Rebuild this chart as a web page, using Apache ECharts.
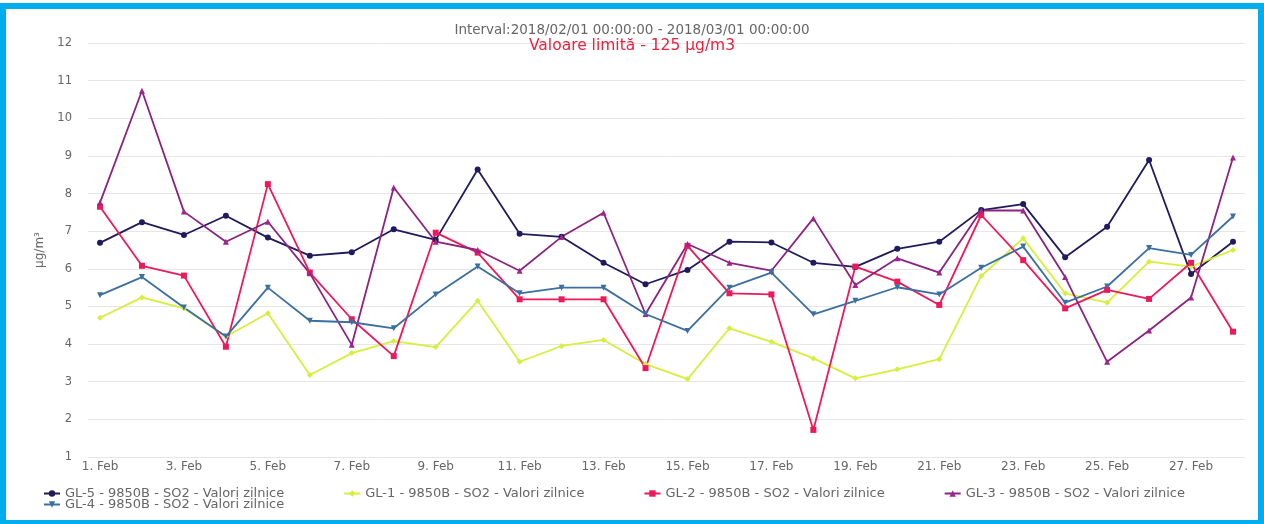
<!DOCTYPE html>
<html>
<head>
<meta charset="utf-8">
<script src="https://cdn.jsdelivr.net/npm/echarts@6/dist/echarts.min.js"></script>
<style>
html,body{margin:0;padding:0;background:#fff;}
#chart{position:absolute;left:0;top:0;width:1264px;height:524px;}
#frame{position:absolute;left:0;top:3px;width:1264px;height:521px;border:6px solid #00AEEF;border-bottom-width:4px;box-sizing:border-box;pointer-events:none;}
</style>
</head>
<body>
<div id="chart"></div>
<div id="frame"></div>
<script>
const categories = ['1. Feb','2. Feb','3. Feb','4. Feb','5. Feb','6. Feb','7. Feb','8. Feb','9. Feb','10. Feb','11. Feb','12. Feb','13. Feb','14. Feb','15. Feb','16. Feb','17. Feb','18. Feb','19. Feb','20. Feb','21. Feb','22. Feb','23. Feb','24. Feb','25. Feb','26. Feb','27. Feb','28. Feb'];
const labelIndices = [0,2,4,6,8,10,12,14,16,18,20,22,24,26];
const gl5 = [6.69,7.24,6.90,7.41,6.83,6.35,6.44,7.05,6.77,8.64,6.93,6.85,6.16,5.59,5.97,6.72,6.70,6.16,6.05,6.53,6.72,7.56,7.72,6.31,7.12,8.89,5.86,6.72];
const gl1 = [4.70,5.24,4.95,4.20,4.82,3.18,3.76,4.08,3.92,5.15,3.53,3.95,4.11,3.47,3.07,4.42,4.06,3.62,3.09,3.33,3.60,5.81,6.81,5.35,5.10,6.19,6.06,6.50];
const gl2 = [7.65,6.08,5.82,3.93,8.25,5.90,4.66,3.68,6.96,6.43,5.19,5.19,5.19,3.36,6.61,5.35,5.32,1.72,6.06,5.66,5.04,7.43,6.23,4.95,5.44,5.20,6.16,4.33];
const gl3 = [7.76,10.73,7.52,6.72,7.25,5.88,3.98,8.16,6.72,6.50,5.95,6.85,7.49,4.80,6.66,6.16,5.95,7.34,5.57,6.28,5.90,7.55,7.55,5.78,3.53,4.36,5.24,8.96];
const gl4 = [5.30,5.78,4.97,4.20,5.50,4.62,4.58,4.42,5.32,6.06,5.35,5.50,5.50,4.80,4.35,5.50,5.90,4.79,5.15,5.51,5.32,6.03,6.59,5.10,5.53,6.55,6.37,7.39];
const names = ['GL-5 - 9850B - SO2 - Valori zilnice','GL-1 - 9850B - SO2 - Valori zilnice','GL-2 - 9850B - SO2 - Valori zilnice','GL-3 - 9850B - SO2 - Valori zilnice','GL-4 - 9850B - SO2 - Valori zilnice'];
const titleText = 'Interval:2018/02/01 00:00:00 - 2018/03/01 00:00:00';
const subText = 'Valoare limită - 125 µg/m3';
const yName = 'µg/m³';

const FONT = 'DejaVu Sans';
function mk(name, vals, color, symbol, markerColor, rotate) {
  return {
    name: name, type: 'line', data: vals.map((v,i)=>[i,v]),
    symbol: symbol, symbolSize: 6, symbolRotate: rotate || 0,
    lineStyle: {width: 1.8, color: color},
    itemStyle: {color: markerColor || color},
    emphasis: {disabled: true}, animation: false
  };
}
const legendText = {fontFamily: FONT, fontSize: 13, color: '#666'};
const chart = echarts.init(document.getElementById('chart'));
chart.setOption({
  animation: false,
  title: [
    {text: titleText, left: 'center', top: 18, textStyle: {fontFamily: FONT, fontSize: 13.5, fontWeight: 'normal', color: '#666'}},
    {text: subText, left: 'center', top: 33, textStyle: {fontFamily: FONT, fontSize: 15.5, fontWeight: 'normal', color: '#e8233f'}}
  ],
  legend: [
    {data: names.slice(0,4), left: 38, top: 482, itemWidth: 16, itemHeight: 8, itemGap: 59, orient: 'horizontal', textStyle: legendText},
    {data: [names[4]], left: 38, top: 493, itemWidth: 16, itemHeight: 8, textStyle: legendText}
  ],
  grid: {left: 88, right: 19, top: 43, bottom: 67},
  xAxis: {
    type: 'value', min: -0.286, max: 27.286,
    axisLine: {show: false}, axisTick: {show: false}, splitLine: {show: false},
    axisLabel: {customValues: labelIndices, formatter: v => categories[Math.round(v)], fontFamily: FONT, fontSize: 12, color: '#666', margin: 4}
  },
  yAxis: {
    type: 'value', min: 1, max: 12, interval: 1,
    name: yName, nameLocation: 'middle', nameGap: 42, nameRotate: 90,
    nameTextStyle: {fontFamily: FONT, fontSize: 12, color: '#666'},
    axisLine: {show: false}, axisTick: {show: false},
    axisLabel: {fontFamily: FONT, fontSize: 11.5, color: '#666', margin: 16},
    splitLine: {lineStyle: {color: '#e6e6e6', width: 1}}
  },
  series: [
    mk(names[0], gl5, '#1f1b5c', 'circle'),
    mk(names[1], gl1, '#d6ef3a', 'diamond'),
    mk(names[2], gl2, '#ec1a5a', 'rect'),
    mk(names[3], gl3, '#8b237f', 'triangle', '#9e2590'),
    mk(names[4], gl4, '#3b6fa0', 'triangle', '#3b6fa0', 180)
  ]
});
</script>
</body>
</html>
